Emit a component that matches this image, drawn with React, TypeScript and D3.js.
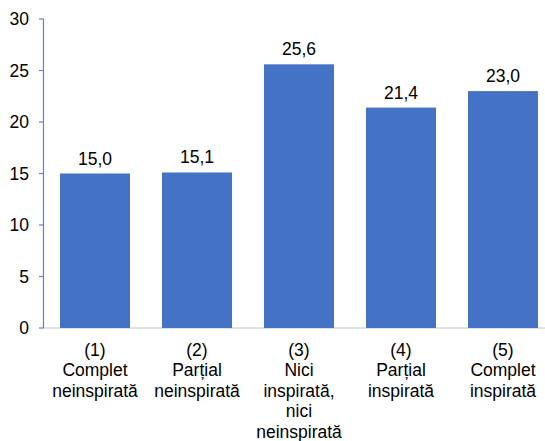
import React from "react";
import * as d3 from "d3";

const categories: string[][] = [
  ["(1)", "Complet", "neinspirată"],
  ["(2)", "Parțial", "neinspirată"],
  ["(3)", "Nici", "inspirată,", "nici", "neinspirată"],
  ["(4)", "Parțial", "inspirată"],
  ["(5)", "Complet", "inspirată"],
];
const values: number[] = [15.0, 15.1, 25.6, 21.4, 23.0];
const yTicks: number[] = [0, 5, 10, 15, 20, 25, 30];

export default function App() {
  const W = 545, H = 441;
  const x = d3.scaleBand<number>().domain(d3.range(values.length)).range([44, 554]).paddingInner(0.314).paddingOuter(0.157);
  const y = d3.scaleLinear().domain([0, 30]).range([328, 19]);
  const font = "Liberation Sans, Arial, sans-serif";
  const fs = 17.5;
  const fmt = (v: number) => v.toFixed(1).replace(".", ",");
  return (
    <svg width={W} height={H} style={{ position: "absolute", left: 0, top: 0 }} fontFamily={font}>
      <rect width={W} height={H} fill="#fff" />
      <line x1={43} x2={W} y1={y(0)} y2={y(0)} stroke="#D9D9D9" strokeWidth={1.5} />
      {values.map((v, i) => (
        <g key={i}>
          <rect x={x(i)} y={y(v)} width={x.bandwidth()} height={y(0) - y(v)} fill="#4472C4" />
          <text x={x(i)! + x.bandwidth() / 2} y={y(v) - 9} textAnchor="middle" fontSize={fs} fill="#000">{fmt(v)}</text>
          {categories[i].map((line, j) => (
            <text key={j} x={x(i)! + x.bandwidth() / 2} y={356 + j * 20.4} textAnchor="middle" fontSize={fs} fill="#000">{line}</text>
          ))}
        </g>
      ))}
      <line x1={43.5} x2={43.5} y1={y(30)} y2={y(0)} stroke="#5B83D0" strokeWidth={1.2} />
      {yTicks.map((t) => (
        <g key={t}>
          <line x1={39} x2={43.5} y1={y(t)} y2={y(t)} stroke="#5B83D0" strokeWidth={1.2} />
          <text x={29} y={y(t) + 6} textAnchor="end" fontSize={fs} fill="#000">{t}</text>
        </g>
      ))}
    </svg>
  );
}
